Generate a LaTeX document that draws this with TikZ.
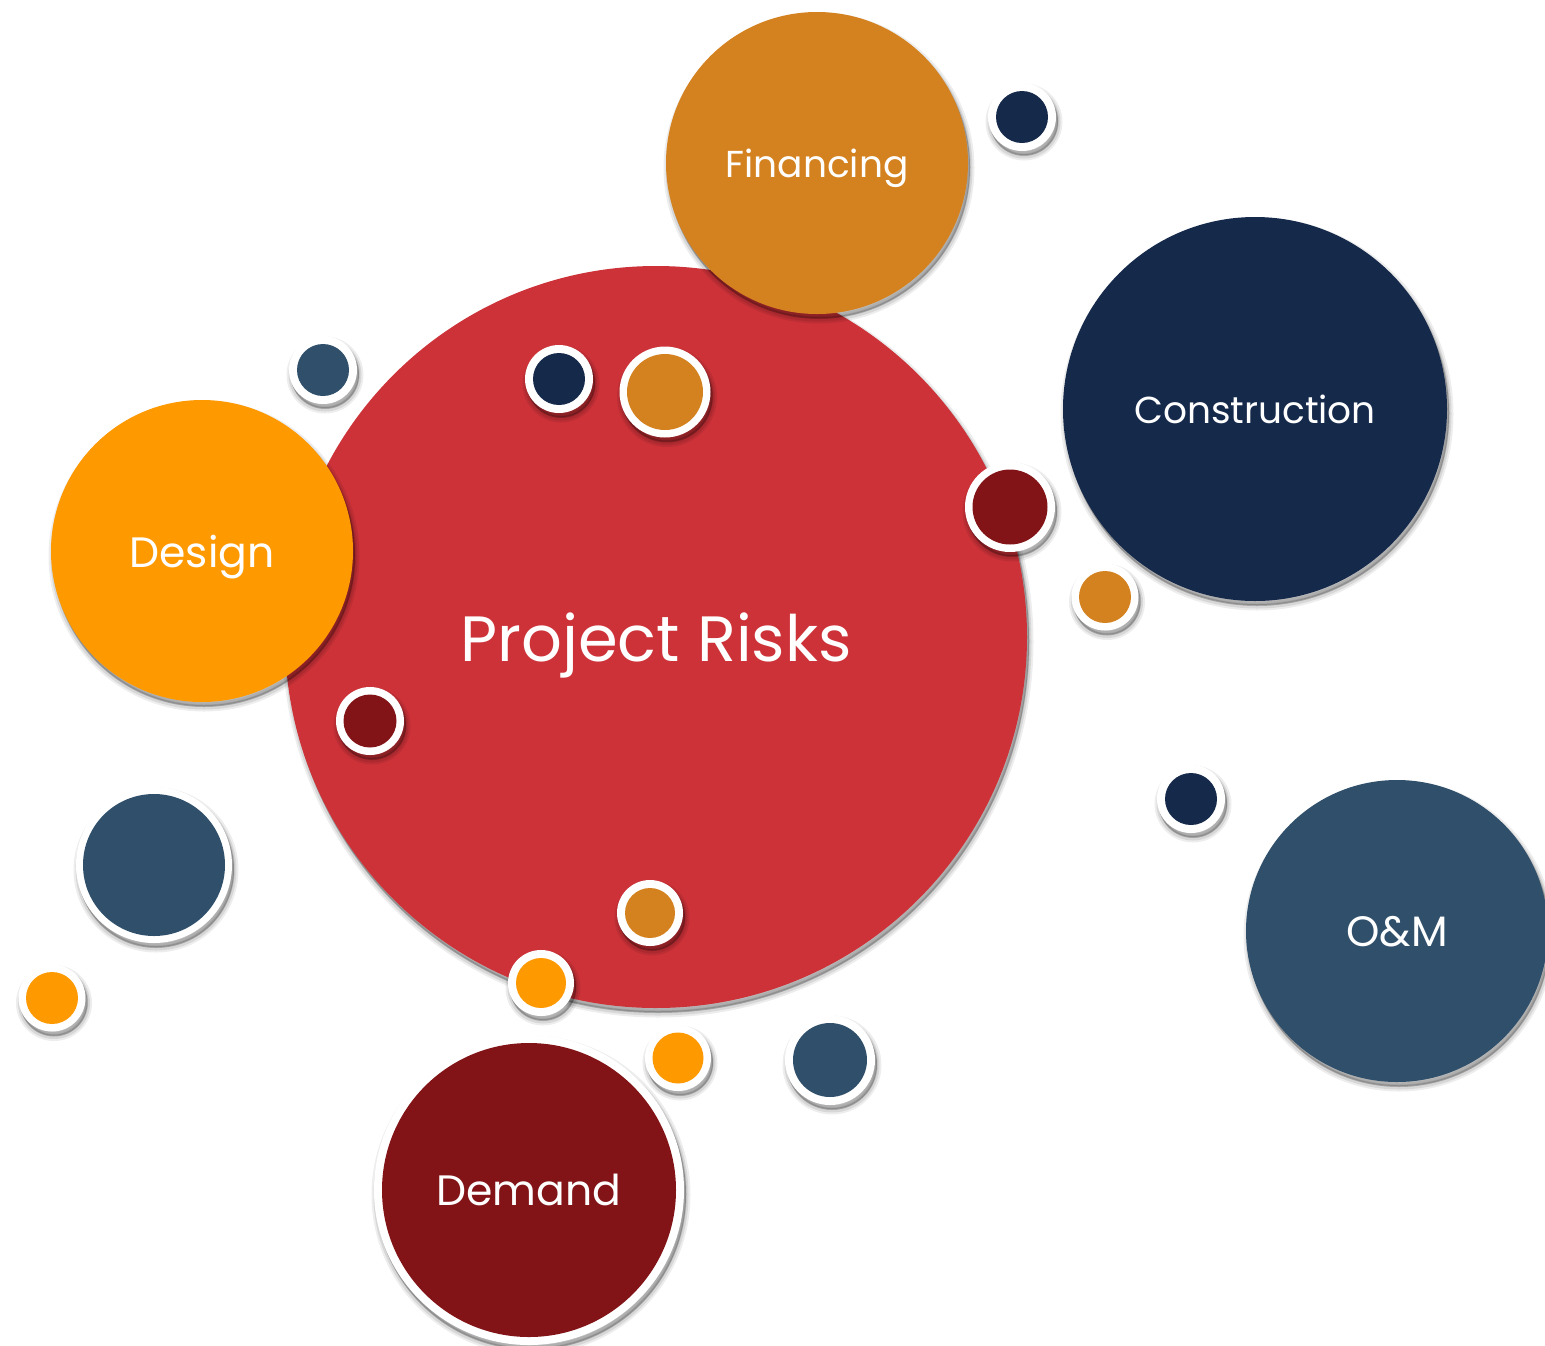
\documentclass[tikz,border=0pt]{standalone}
\usepackage{fontspec}
\setmainfont{Poppins}
\usetikzlibrary{shadows}
\definecolor{riskred}{RGB}{204,50,56}
\definecolor{finc}{RGB}{212,130,32}
\definecolor{navy}{RGB}{21,41,75}
\definecolor{orng}{RGB}{255,153,0}
\definecolor{steel}{RGB}{47,79,107}
\definecolor{dred}{RGB}{130,20,24}
\tikzset{
  shd/.style={
    general shadow={fill=black, draw=black, line width=9pt, opacity=.07, shadow xshift=2pt, shadow yshift=-5pt},
    general shadow={fill=black, draw=black, line width=5pt, opacity=.09, shadow xshift=2pt, shadow yshift=-5pt},
    general shadow={fill=black, draw=black, line width=1.5pt, opacity=.12, shadow xshift=2pt, shadow yshift=-4pt}},
  big/.style={circle, inner sep=0pt, draw=none, text=white, text depth=0pt, shd},
  fsmall/.style={font=\fontsize{37.5}{45}\selectfont},
  flarge/.style={font=\fontsize{42.5}{50}\selectfont},
  dotc/.style n args={3}{circle, inner sep=0pt, fill=white, draw=none, minimum size=#2pt, shd,
    path picture={\fill[#1] (path picture bounding box.center) circle[radius=#3pt];}}
}
\begin{document}
\begin{tikzpicture}[x=1pt,y=-1pt]
\fill[white] (0,0) rectangle (1545,1345);
\useasboundingbox (0,0) rectangle (1545,1345);
% main
\node[big, fill=riskred, minimum size=742pt, font=\fontsize{64}{72}\selectfont] (risk) at (656,637) {Project Risks};
% satellites
\node[big, fill=orng, minimum size=302pt, flarge] (design) at (202,551) {Design};
\node[big, fill=finc, minimum size=302pt, fsmall] (fin) at (817,163) {Financing};
\node[big, fill=navy, minimum size=384pt, fsmall] (cons) at (1255,409) {Construction};
\node[big, fill=steel, minimum size=302pt, flarge] (om) at (1397,931) {O\&M};
\node[dotc={dred}{310}{147}, text=white, text depth=0pt, flarge] (dem) at (529,1190) {Demand};
% small dots
\node[dotc={navy}{68}{26}] (s1) at (1022,117) {};
\node[dotc={steel}{68}{26}] (s2) at (323,370) {};
\node[dotc={navy}{68}{26}] (s3) at (559,379) {};
\node[dotc={finc}{91}{38}] (s4) at (665,392) {};
\node[dotc={dred}{90}{37.5}] (s5) at (1010,507) {};
\node[dotc={finc}{67}{26}] (s6) at (1105,597) {};
\node[dotc={dred}{68}{26.5}] (s7) at (370,721) {};
\node[dotc={steel}{156}{71}] (s8) at (154,865) {};
\node[dotc={orng}{67}{26}] (s9) at (52,998) {};
\node[dotc={finc}{66}{25}] (s10) at (650,913) {};
\node[dotc={orng}{66}{25}] (s11) at (541,983) {};
\node[dotc={orng}{66}{25.5}] (s12) at (678,1058) {};
\node[dotc={steel}{90}{37}] (s13) at (830,1060) {};
\node[dotc={navy}{68}{26}] (s14) at (1191,799) {};
\end{tikzpicture}
\end{document}
